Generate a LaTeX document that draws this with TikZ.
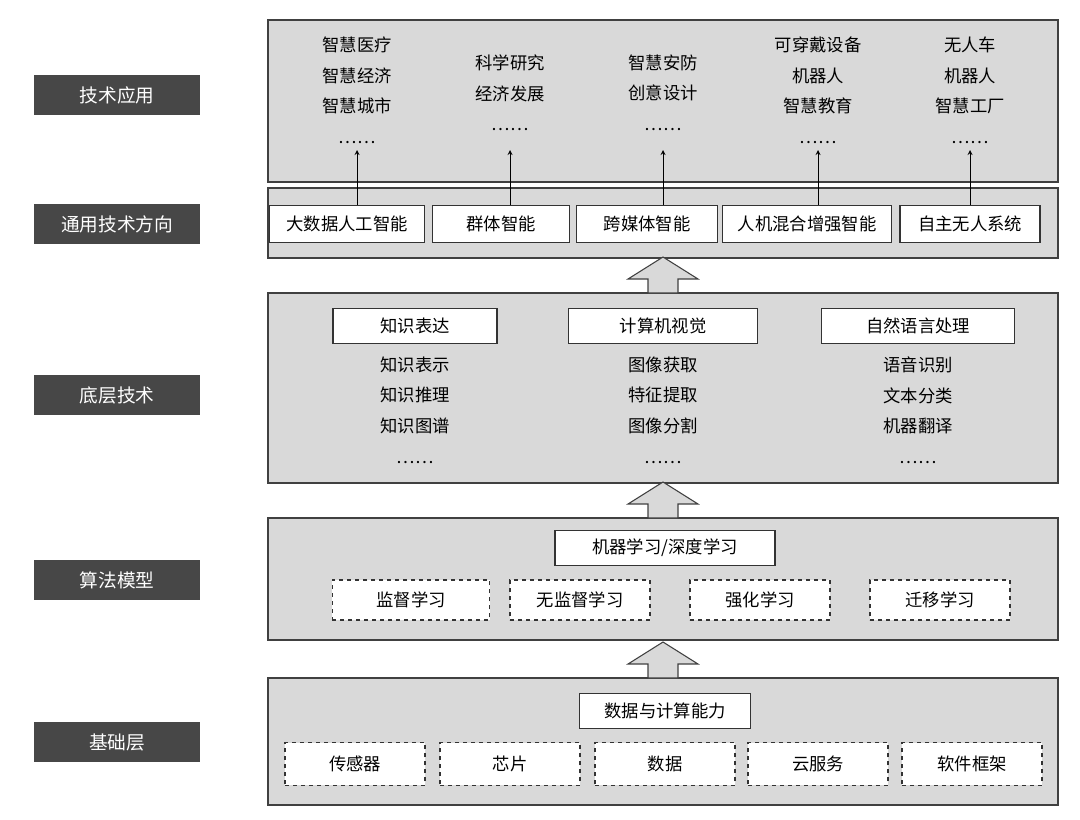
\documentclass[tikz,border=0pt]{standalone}
\usepackage{fontspec}
\setmainfont{Noto Sans CJK SC}
\begin{document}
\begin{tikzpicture}[x=0.75pt,y=-0.75pt,
 layer/.style={draw=black!75,fill=black!15,line width=0.8pt},
 lbl/.style={fill=black!72,text=white,minimum width=124pt,minimum height=30pt,inner sep=0pt,font=\fontsize{14}{16}\selectfont},
 tbox/.style={draw=black!80,fill=white,line width=0.8pt,inner sep=0pt,font=\fontsize{13}{15}\selectfont},
 dbox/.style={tbox,dashed},
 txt/.style={align=center,font=\fontsize{13}{23}\selectfont},
 hollow/.style={draw=black!75,fill=black!15,line width=0.8pt},
 arr/.style={->,>=stealth,line width=0.7pt}]
\useasboundingbox (0,0) rectangle (1080,819);
% layers
\draw[layer] (268,20) rectangle (1058,182);
\draw[layer] (268,188) rectangle (1058,258);
\draw[layer] (268,293) rectangle (1058,483);
\draw[layer] (268,518) rectangle (1058,640);
\draw[layer] (268,678) rectangle (1058,805);
% left labels
\node[lbl] (l1) at (117,95) {技术应用};
\node[lbl] (l2) at (117,224) {通用技术方向};
\node[lbl] (l3) at (117,395) {底层技术};
\node[lbl] (l4) at (117,580) {算法模型};
\node[lbl] (l5) at (117,742) {基础层};
% top texts
\node[txt,anchor=north] (a1) at (357,32) {智慧医疗\\智慧经济\\智慧城市\\……};
\node[txt,anchor=north] (a2) at (510,50) {科学研究\\经济发展\\……};
\node[txt,anchor=north] (a3) at (663,50) {智慧安防\\创意设计\\……};
\node[txt,anchor=north] (a4) at (818,32) {可穿戴设备\\机器人\\智慧教育\\……};
\node[txt,anchor=north] (a5) at (970,32) {无人车\\机器人\\智慧工厂\\……};
% direction boxes
\node[tbox,minimum width=116pt,minimum height=28pt] (d1) at (347,224) {大数据人工智能};
\node[tbox,minimum width=103pt,minimum height=28pt] (d2) at (501,224) {群体智能};
\node[tbox,minimum width=106pt,minimum height=28pt] (d3) at (647,224) {跨媒体智能};
\node[tbox,minimum width=127pt,minimum height=28pt] (d4) at (807,224) {人机混合增强智能};
\node[tbox,minimum width=105pt,minimum height=28pt] (d5) at (970,224) {自主无人系统};
\coordinate (t1) at (357,150); \coordinate (t2) at (510,150); \coordinate (t3) at (663,150);
\coordinate (t4) at (818,150); \coordinate (t5) at (970,150);
\draw[arr] (d1.north-|t1) -- (t1);
\draw[arr] (d2.north-|t2) -- (t2);
\draw[arr] (d3.north-|t3) -- (t3);
\draw[arr] (d4.north-|t4) -- (t4);
\draw[arr] (d5.north-|t5) -- (t5);
% hollow arrows
\foreach \b in {293,518,678}{
 \draw[hollow] (648,\b) -- (648,\b-14) -- (628,\b-14) -- (663,\b-36) -- (698,\b-14) -- (678,\b-14) -- (678,\b) -- cycle;
}
% bottom tech
\node[tbox,minimum width=123pt,minimum height=26pt] (b1) at (415,326) {知识表达};
\node[tbox,minimum width=142pt,minimum height=26pt] (b2) at (663,326) {计算机视觉};
\node[tbox,minimum width=145pt,minimum height=26pt] (b3) at (918,326) {自然语言处理};
\node[txt,anchor=north] (c1) at (415,352) {知识表示\\知识推理\\知识图谱\\……};
\node[txt,anchor=north] (c2) at (663,352) {图像获取\\特征提取\\图像分割\\……};
\node[txt,anchor=north] (c3) at (918,352) {语音识别\\文本分类\\机器翻译\\……};
% algorithms
\node[tbox,minimum width=165pt,minimum height=26pt] (m0) at (665,548) {机器学习/深度学习};
\node[dbox,minimum width=118pt,minimum height=30pt] (m1) at (411,600) {监督学习};
\node[dbox,minimum width=105pt,minimum height=30pt] (m2) at (580,600) {无监督学习};
\node[dbox,minimum width=105pt,minimum height=30pt] (m3) at (760,600) {强化学习};
\node[dbox,minimum width=105pt,minimum height=30pt] (m4) at (940,600) {迁移学习};
% base
\node[tbox,minimum width=128pt,minimum height=26pt] (f0) at (665,711) {数据与计算能力};
\node[dbox,minimum width=105pt,minimum height=32pt] (f1) at (355,764) {传感器};
\node[dbox,minimum width=105pt,minimum height=32pt] (f2) at (510,764) {芯片};
\node[dbox,minimum width=105pt,minimum height=32pt] (f3) at (665,764) {数据};
\node[dbox,minimum width=105pt,minimum height=32pt] (f4) at (818,764) {云服务};
\node[dbox,minimum width=105pt,minimum height=32pt] (f5) at (972,764) {软件框架};
\end{tikzpicture}
\end{document}
